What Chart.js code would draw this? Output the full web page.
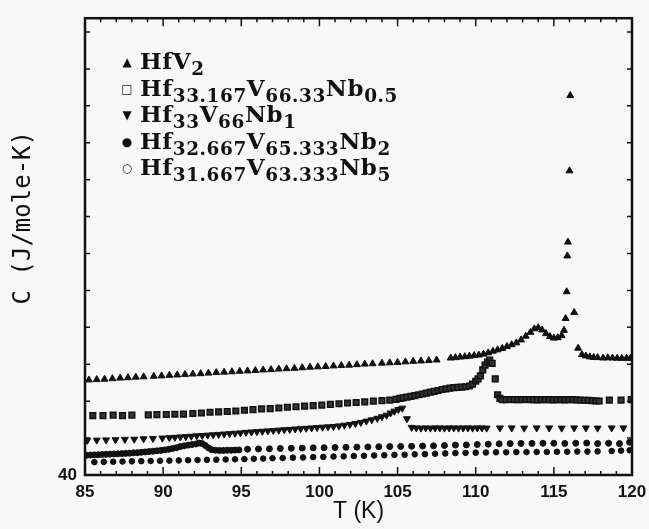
<!DOCTYPE html>
<html>
<head>
<meta charset="utf-8">
<script src="https://cdn.jsdelivr.net/npm/chart.js@4.4.0/dist/chart.umd.min.js"></script>
<style>
  body { margin: 0; background: #f8f8f8; }
  #wrap { position: relative; width: 649px; height: 529px; }
  #legend { position: absolute; left: 114px; top: 48px; font: bold 23px "DejaVu Serif"; color: #111; letter-spacing: 0.6px; }
  #legend div { height: 26.5px; line-height: 26.5px; white-space: nowrap; }
  #legend .mk { display: inline-block; width: 26px; font: 12px "DejaVu Sans"; text-align: center; vertical-align: 3px; letter-spacing: 0; }
  #legend sub { font-size: 80%; vertical-align: -0.3em; line-height: 0; }
</style>
</head>
<body>
<div id="wrap">
  <canvas id="c" width="649" height="529"></canvas>
  <div id="legend"></div>
</div>
<script>
// series labels (plain + with subscripts for the legend)
const seriesLabels = ['HfV2', 'Hf33.167V66.33Nb0.5', 'Hf33V66Nb1', 'Hf32.667V65.333Nb2', 'Hf31.667V63.333Nb5'];
const legendHtml = [
  'HfV<sub>2</sub>',
  'Hf<sub>33.167</sub>V<sub>66.33</sub>Nb<sub>0.5</sub>',
  'Hf<sub>33</sub>V<sub>66</sub>Nb<sub>1</sub>',
  'Hf<sub>32.667</sub>V<sub>65.333</sub>Nb<sub>2</sub>',
  'Hf<sub>31.667</sub>V<sub>63.333</sub>Nb<sub>5</sub>'
];
const legendMarks = ['\u25B2', '\u25A1', '\u25BC', '\u25CF', '\u25CB'];

// HfV2
const hfv2T = [85.25,85.75,86.25,86.75,87.25,87.75,88.25,88.75,
  89.4,89.9,90.4,90.9,91.4,91.9,92.4,92.9,93.4,93.9,94.4,94.9,95.4,95.9,96.4,96.9,97.4,97.9,98.4,98.9,99.4,99.9,100.4,100.9,101.4,101.9,102.4,102.9,103.4,
  104.0,104.5,105.0,105.5,106.0,106.5,107.0,107.5,
  108.4,108.7,109.0,109.3,109.6,109.9,110.2,110.5,110.8,111.1,111.4,111.7,112.0,112.3,112.6,112.9,113.2,113.5,
  113.75,114.0,114.25,114.5,114.75,115.0,115.25,115.5,
  115.65,115.75,115.82,115.86,115.9,116.0,116.05,
  116.3,116.55,116.8,117.05,117.3,117.55,117.8,
  118.15,118.45,118.75,119.05,119.35,119.65,119.9];
const hfv2C = [45.15,45.17,45.19,45.22,45.25,45.27,45.30,45.32,
  45.35,45.37,45.40,45.42,45.45,45.47,45.49,45.52,45.55,45.57,45.59,45.62,45.64,45.66,45.69,45.71,45.74,45.76,45.78,45.81,45.84,45.86,45.88,45.91,45.93,45.95,45.98,46.01,46.03,
  46.06,46.08,46.10,46.13,46.16,46.18,46.20,46.23,
  46.34,46.36,46.39,46.41,46.44,46.47,46.50,46.55,46.62,46.71,46.78,46.86,46.96,47.06,47.16,47.32,47.52,47.73,
  47.92,47.98,47.86,47.66,47.50,47.42,47.44,47.55,
  47.84,48.48,49.93,51.87,52.62,56.48,60.56,
  48.81,46.87,46.52,46.45,46.40,46.37,46.36,
  46.34,46.35,46.34,46.33,46.32,46.33,46.32];

// Hf33.167V66.33Nb0.5
const nb05T = [85.5,86.15,86.8,87.4,88.0,
  89.05,89.6,90.2,90.75,91.3,91.9,92.45,93.0,93.55,94.1,94.65,95.2,95.75,96.3,96.85,97.4,97.95,98.5,99.05,99.6,100.15,100.7,101.25,101.8,102.35,102.9,103.45,104.0,104.5,104.9,
  105.15,105.35,105.6,105.85,106.1,106.35,106.6,106.85,107.1,107.35,107.6,107.85,108.1,108.35,108.6,108.85,109.1,109.35,109.6,109.8,110.0,110.15,110.3,110.45,110.6,110.75,110.9,111.05,111.25,111.4,111.55,
  111.7,111.95,112.2,112.45,112.7,112.95,113.2,113.45,113.7,113.95,114.2,114.45,114.7,114.95,115.2,115.45,115.7,115.95,116.2,116.45,116.7,116.95,117.2,117.45,117.7,117.9,
  118.55,119.3,119.95];
const nb05C = [43.22,43.22,43.24,43.22,43.24,
  43.26,43.27,43.28,43.29,43.30,43.33,43.36,43.40,43.42,43.44,43.47,43.51,43.54,43.58,43.60,43.63,43.67,43.70,43.73,43.76,43.79,43.83,43.86,43.90,43.93,43.96,44.00,44.03,44.06,44.10,
  44.15,44.18,44.22,44.26,44.30,44.35,44.39,44.44,44.49,44.53,44.58,44.63,44.67,44.71,44.73,44.75,44.76,44.78,44.82,44.92,45.08,45.21,45.37,45.70,45.95,46.12,46.22,46.05,45.21,44.35,44.15,
  44.08,44.08,44.09,44.08,44.08,44.08,44.09,44.08,44.08,44.07,44.08,44.08,44.08,44.07,44.08,44.08,44.07,44.08,44.08,44.07,44.06,44.05,44.04,44.03,44.01,44.01,
  44.06,44.06,44.08];

// Hf33V66Nb1
const nb1T = [85.15,85.75,86.35,86.95,87.55,88.15,88.75,89.35,89.95,
  90.4,90.75,91.1,91.45,91.8,92.15,92.5,92.85,93.2,93.55,93.9,94.25,94.6,94.95,95.3,95.65,96.0,96.35,96.7,97.05,97.4,97.75,98.1,98.45,98.8,99.15,99.5,99.85,100.2,100.55,100.9,101.25,101.6,101.95,102.3,102.65,103.0,103.35,103.7,104.0,104.3,104.55,104.8,105.05,105.3,
  105.6,105.9,
  106.2,106.5,106.8,107.1,107.4,107.7,108.0,108.3,108.6,108.9,109.2,109.5,109.8,110.1,110.4,110.7,
  111.55,112.3,113.1,113.9,114.7,115.5,116.3,117.05,117.8,118.7,119.45];
const nb1C = [41.88,41.89,41.90,41.91,41.93,41.94,41.96,41.98,42.00,
  42.02,42.04,42.06,42.08,42.10,42.12,42.14,42.16,42.18,42.20,42.22,42.24,42.26,42.28,42.31,42.33,42.35,42.37,42.39,42.41,42.43,42.45,42.47,42.49,42.51,42.53,42.55,42.57,42.59,42.61,42.63,42.66,42.70,42.74,42.79,42.85,42.92,42.99,43.07,43.15,43.24,43.36,43.46,43.55,43.62,
  43.05,42.58,
  42.55,42.54,42.55,42.54,42.55,42.55,42.54,42.55,42.55,42.54,42.55,42.55,42.54,42.55,42.55,42.54,
  42.55,42.55,42.54,42.55,42.55,42.54,42.55,42.55,42.54,42.55,42.55];

// Hf32.667V65.333Nb2
const nb2T = [85.1,85.35,85.6,85.85,86.1,86.35,86.6,86.85,87.1,87.35,87.6,87.85,88.1,88.35,88.6,88.85,89.1,89.35,89.6,89.85,90.1,90.35,90.6,90.85,91.1,91.35,91.6,91.85,
  92.1,92.3,92.5,92.7,92.9,93.1,93.35,93.6,93.85,94.1,94.35,94.6,94.85,
  95.4,96.1,96.8,97.5,98.2,98.9,99.6,100.3,101.0,101.7,102.4,103.1,103.8,104.5,105.2,105.9,106.6,107.3,108.0,108.7,109.4,110.1,110.8,111.5,112.2,112.9,113.6,114.3,115.0,115.7,116.4,117.1,117.8,118.5,119.2,119.85];
const nb2C = [41.07,41.08,41.09,41.10,41.11,41.12,41.13,41.14,41.15,41.16,41.17,41.18,41.20,41.21,41.23,41.25,41.27,41.29,41.31,41.33,41.36,41.39,41.43,41.48,41.54,41.58,41.62,41.65,
  41.68,41.73,41.70,41.60,41.47,41.37,41.34,41.33,41.33,41.34,41.34,41.35,41.36,
  41.40,41.41,41.42,41.44,41.45,41.46,41.47,41.48,41.49,41.50,41.51,41.52,41.53,41.54,41.55,41.56,41.57,41.58,41.60,41.62,41.63,41.65,41.67,41.69,41.70,41.71,41.71,41.72,41.72,41.71,41.72,41.73,41.70,41.72,41.70,41.78];

// Hf31.667V63.333Nb5
const nb5T = [85.6,86.2,86.8,87.4,88.0,88.6,89.2,89.8,90.4,91.0,91.6,92.2,92.8,93.4,94.0,94.6,95.2,95.8,96.4,97.0,
  97.65,98.3,98.95,99.6,100.25,100.9,101.55,102.2,102.85,103.5,104.15,104.8,105.45,106.1,106.75,107.4,108.05,108.7,109.35,110.0,110.65,111.3,111.95,112.6,113.25,113.9,114.55,115.2,115.85,116.5,117.15,117.8,
  118.7,119.3,119.85];
const nb5C = [40.70,40.71,40.72,40.73,40.74,40.75,40.76,40.77,40.78,40.79,40.80,40.81,40.82,40.83,40.84,40.85,40.86,40.88,40.89,40.91,
  40.92,40.94,40.95,40.97,40.98,41.00,41.01,41.03,41.04,41.06,41.07,41.09,41.10,41.12,41.13,41.15,41.17,41.19,41.20,41.21,41.22,41.23,41.23,41.24,41.24,41.25,41.25,41.26,41.26,41.27,41.27,41.28,
  41.30,41.32,41.34];

function pts(t, c) {
  return t.map((v, i) => ({ x: v, y: c[i] }));
}

// legend (html, needs subscripts)
const legendEl = document.getElementById('legend');
legendHtml.forEach((h, i) => {
  const row = document.createElement('div');
  row.innerHTML = '<span class="mk">' + legendMarks[i] + '</span>' + h;
  legendEl.appendChild(row);
});

// inward ticks on all four sides + heavy frame
const frameTicks = {
  id: 'frameTicks',
  afterDatasetsDraw(chart) {
    const { ctx, chartArea: a, scales: { x, y } } = chart;
    ctx.save();
    ctx.strokeStyle = '#111';
    ctx.lineWidth = 1.5;
    ctx.beginPath();
    for (let t = x.min; t <= x.max; t += 1) {
      const px = x.getPixelForValue(t);
      const len = (t % 5 === 0) ? 8 : 4;
      ctx.moveTo(px, a.bottom); ctx.lineTo(px, a.bottom - len);
      ctx.moveTo(px, a.top); ctx.lineTo(px, a.top + len);
    }
    for (let v = y.min; v <= y.max; v += 2) {
      const py = y.getPixelForValue(v);
      ctx.moveTo(a.left, py); ctx.lineTo(a.left + 5, py);
      ctx.moveTo(a.right, py); ctx.lineTo(a.right - 5, py);
    }
    ctx.stroke();
    ctx.lineWidth = 2.5;
    ctx.strokeRect(a.left, a.top, a.right - a.left, a.bottom - a.top);
    ctx.restore();
  }
};

const ink = '#111';

new Chart(document.getElementById('c'), {
  type: 'scatter',
  data: {
    datasets: [
      { label: seriesLabels[0], data: pts(hfv2T, hfv2C), pointStyle: 'triangle', pointRadius: 4,
        backgroundColor: ink, borderColor: ink, borderWidth: 1 },
      { label: seriesLabels[1], data: pts(nb05T, nb05C), pointStyle: 'rect', pointRadius: 4,
        backgroundColor: '#333', borderColor: ink, borderWidth: 1.5 },
      { label: seriesLabels[2], data: pts(nb1T, nb1C), pointStyle: 'triangle', rotation: 180, pointRadius: 4,
        backgroundColor: ink, borderColor: ink, borderWidth: 1 },
      { label: seriesLabels[3], data: pts(nb2T, nb2C), pointStyle: 'circle', pointRadius: 3,
        backgroundColor: ink, borderColor: ink, borderWidth: 1 },
      { label: seriesLabels[4], data: pts(nb5T, nb5C), pointStyle: 'circle', pointRadius: 2.8,
        backgroundColor: ink, borderColor: ink, borderWidth: 1 }
    ]
  },
  options: {
    responsive: false,
    animation: false,
    devicePixelRatio: 1,
    layout: { padding: { left: 0, right: 17, top: 14, bottom: 0 } },
    plugins: { legend: { display: false }, tooltip: { enabled: false } },
    scales: {
      x: {
        type: 'linear', min: 85, max: 120,
        afterFit: s => { s.height = 54; s.paddingLeft = 0; s.paddingRight = 0; },
        ticks: { stepSize: 5, padding: 7, color: ink, maxRotation: 0,
                 font: { family: 'Liberation Sans', weight: 'bold', size: 17 } },
        grid: { display: false, drawTicks: false },
        border: { display: false },
        title: { display: true, text: 'T (K)', color: ink,
                 font: { family: 'Liberation Sans', size: 23 }, padding: { top: 0, bottom: 4 } }
      },
      y: {
        min: 40, max: 64.75,
        afterFit: s => { s.width = 85; },
        ticks: { stepSize: 2, padding: 8, color: ink, autoSkip: false,
                 callback: v => (v === 40 ? '40' : ''),
                 font: { family: 'Liberation Sans', weight: 'bold', size: 17 } },
        grid: { display: false, drawTicks: false },
        border: { display: false },
        title: { display: true, text: '    C (J/mole-K)', color: ink,
                 font: { family: 'DejaVu Sans Mono', size: 24 }, padding: { top: 9, bottom: 0 } }
      }
    }
  },
  plugins: [frameTicks]
});
</script>
</body>
</html>
